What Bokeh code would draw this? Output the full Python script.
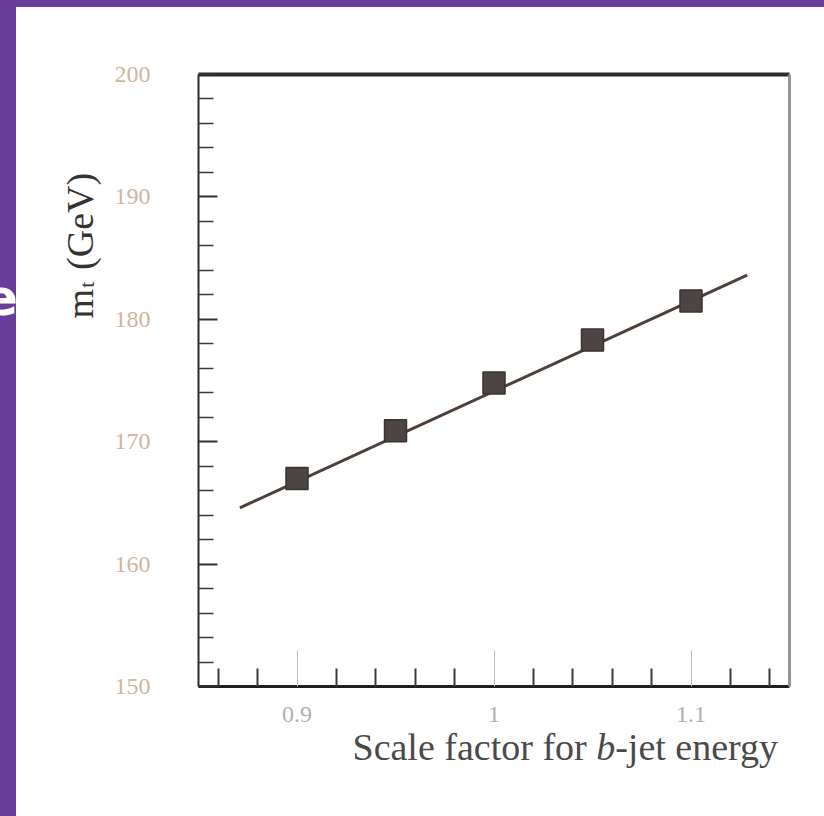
import math

from bokeh.embed import file_html
from bokeh.layouts import column, row
from bokeh.models import Div, FixedTicker, Label, LinearAxis, Range1d
from bokeh.plotting import figure
from bokeh.resources import INLINE

# Fitted top mass for each b-jet energy scale factor
scale_factor = [0.90, 0.95, 1.00, 1.05, 1.10]
top_mass = [167.0, 170.9, 174.8, 178.3, 181.5]

# Straight-line fit through the scan (end points)
fit_x = [0.871, 1.1285]
fit_y = [164.6, 183.6]

# Axis ticks and labels
x_major = [0.9, 1.0, 1.1]
x_minor = [0.86, 0.88, 0.92, 0.94, 0.96, 0.98, 1.02, 1.04, 1.06, 1.08, 1.12, 1.14]
x_tick_labels = {0.9: "0.9", 1.0: "1", 1.1: "1.1"}
y_major = [150, 160, 170, 180, 190, 200]
y_minor = [152, 154, 156, 158, 162, 164, 166, 168, 172, 174, 176, 178,
           182, 184, 186, 188, 192, 194, 196, 198]

SERIF = "Liberation Serif"
PURPLE = "#6a3c9b"
NBSP = "\u00a0"

p = figure(
    width=808, height=809,
    x_range=Range1d(0.85, 1.15), y_range=Range1d(150, 200),
    output_backend="svg", toolbar_location=None,
    x_axis_type=None, y_axis_type=None,
    min_border_left=182, min_border_right=35,
    min_border_top=67, min_border_bottom=130,
    background_fill_color="white", border_fill_color="white",
)
p.outline_line_color = None
p.xgrid.visible = False
p.ygrid.visible = False

# bottom axis
xa = LinearAxis(ticker=FixedTicker(ticks=x_major, minor_ticks=x_minor))
xa.major_label_overrides = x_tick_labels
xa.axis_line_color = "#1f1f1f"
xa.axis_line_width = 3
xa.major_tick_in = 36
xa.major_tick_out = 0
xa.major_tick_line_color = "#bdb5b5"
xa.major_tick_line_width = 1
xa.minor_tick_in = 18
xa.minor_tick_out = 0
xa.minor_tick_line_color = "#3a3a3a"
xa.minor_tick_line_width = 2
xa.major_label_standoff = 20
xa.major_label_text_font = SERIF
xa.major_label_text_font_size = "24px"
xa.major_label_text_color = "#b0b0b0"
p.add_layout(xa, "below")

# left axis
ya = LinearAxis(ticker=FixedTicker(ticks=y_major, minor_ticks=y_minor))
ya.axis_line_color = "#2a2a2a"
ya.axis_line_width = 2
ya.major_tick_in = 19
ya.major_tick_out = 0
ya.major_tick_line_color = "#333333"
ya.major_tick_line_width = 2
ya.minor_tick_in = 15
ya.minor_tick_out = 0
ya.minor_tick_line_color = "#3a3a3a"
ya.minor_tick_line_width = 1.5
ya.major_label_standoff = 48
ya.major_label_orientation = "horizontal"
ya.major_label_text_font = SERIF
ya.major_label_text_font_size = "24px"
ya.major_label_text_color = "#cdb59e"
p.add_layout(ya, "left")

# frame borders on top and right
top = LinearAxis(ticker=FixedTicker(ticks=[]))
top.axis_line_color = "#2b2b2b"
top.axis_line_width = 4
p.add_layout(top, "above")

right = LinearAxis(ticker=FixedTicker(ticks=[]))
right.axis_line_color = "#9a9090"
right.axis_line_width = 3
p.add_layout(right, "right")

# fit line and measured points
p.line(fit_x, fit_y, line_width=3, line_color="#4e3f3b")
p.scatter(scale_factor, top_mass, marker="square", size=22,
          fill_color="#4d4444", line_color="#3a3232", line_width=1.5)


def title_piece(x, y, text, size, color, side, angle=0.0, style="normal"):
    # side panels keep these texts outside the plot frame unclipped
    p.add_layout(Label(x=x, y=y, text=text, angle=angle, text_align="left",
                       text_baseline="alphabetic", text_font=SERIF,
                       text_font_style=style, text_font_size=size,
                       text_color=color), side)


# x-axis title; the italic b sits in the gap left for it
x_title = "Scale factor for " + NBSP * 2 + "-jet energy"
title_piece(0.92817, 145.02, x_title, "38px", "#4a4a4a", "below")
title_piece(1.05188, 145.02, "b", "38px", "#4a4a4a", "above", style="italic")

# y-axis title m_t (GeV), read bottom to top
y_title = "m" + NBSP * 2 + "(GeV)"
title_piece(0.79010, 180.07, y_title, "38px", "#333333", "left", angle=math.pi / 2)
title_piece(0.79315, 182.57, "t", "22px", "#333333", "right", angle=math.pi / 2)

top_band = Div(width=824, height=7, margin=0, styles={"background-color": PURPLE})
left_band = Div(
    width=16, height=809, margin=0,
    styles={"background-color": PURPLE, "overflow": "hidden"},
    text=('<div style="position:relative;width:16px;height:809px;overflow:hidden;">'
          '<span style="position:absolute;left:-16px;top:256px;color:white;'
          "font-family:'DejaVu Sans';font-weight:bold;font-size:50px;\">e</span></div>"),
)

layout = column(top_band, row(left_band, p, spacing=0), spacing=0)

open("out.html", "w").write(file_html(layout, INLINE))
